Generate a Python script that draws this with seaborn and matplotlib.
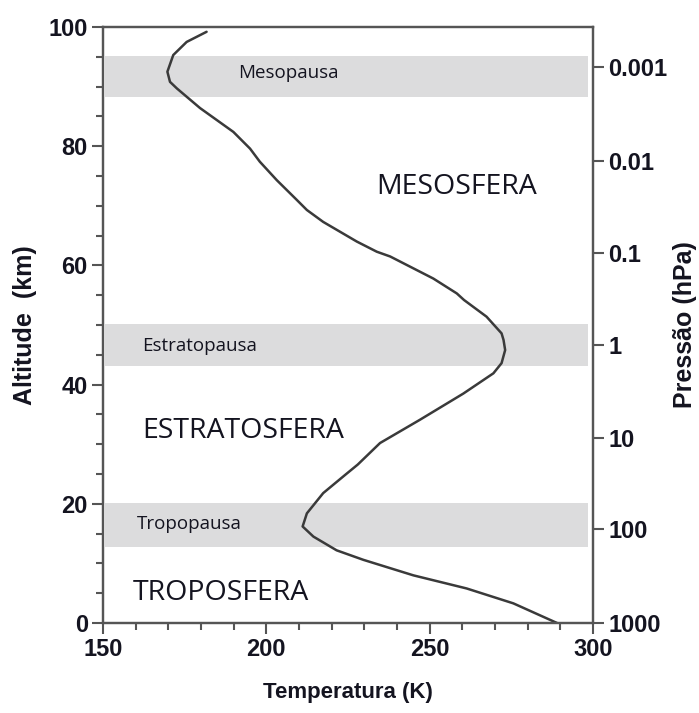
import matplotlib
matplotlib.use("Agg")
import matplotlib.pyplot as plt
import pandas as pd
import seaborn as sns
from matplotlib.ticker import MultipleLocator

# temperature profile
altitude_km = [0, 3.3, 5.8, 8.0, 10.6, 12.2, 14.5, 16.2, 18.4, 21.8, 24.8, 26.6,
               30.2, 34.1, 38.5, 41.9, 43.6, 45.8, 47.5, 48.6, 51.4, 54.2, 55.3,
               57.8, 61.5, 62.3, 64.0, 67.3, 69.3, 71.0, 74.3, 77.4, 79.6, 82.4,
               84.4, 86.4, 89.7, 90.8, 92.5, 95.3, 97.5, 99.2]
temperature_k = [289.0, 275.6, 261.3, 245.0, 229.7, 221.5, 214.4, 211.1, 212.4, 217.4,
                 224.0, 228.0, 234.8, 247.0, 260.3, 269.5, 272.0, 273.1, 272.6, 272.0,
                 267.4, 260.5, 258.3, 251.1, 237.9, 233.8, 227.7, 217.4, 212.4, 209.3,
                 203.2, 198.0, 195.0, 189.9, 184.8, 179.7, 172.6, 170.5, 169.7, 171.5,
                 175.6, 181.7]

# pause layers (bottom, top) in km
pause_names = ["Tropopausa", "Estratopausa", "Mesopausa"]
pause_bottom = [12.8, 43.1, 88.3]
pause_top = [20.1, 50.2, 95.1]
pause_label_x = [160.4, 161.9, 191.5]
pause_label_y = [16.6, 46.5, 92.3]

# layer names
layer_names = ["TROPOSFERA", "ESTRATOSFERA", "MESOSFERA"]
layer_x = [159.2, 161.9, 233.6]
layer_y = [5.0, 32.3, 73.2]

# pressure axis
pressure_labels = ["1000", "100", "10", "1", "0.1", "0.01", "0.001"]
pressure_alt = [0, 15.8, 31.1, 46.6, 62.1, 77.5, 93.3]

df = pd.DataFrame({"temp": temperature_k, "alt": altitude_km})

sns.set_theme(style="ticks")
plt.rcParams["font.family"] = ["Liberation Sans", "DejaVu Sans"]

fig = plt.figure(figsize=(6.99, 7.13), dpi=100)
ax = fig.add_axes([0.1474, 0.1262, 0.8484 - 0.1474, 0.9621 - 0.1262])

for lo, hi in zip(pause_bottom, pause_top):
    ax.axhspan(lo, hi, xmin=0.004, xmax=0.99, color="#dcdcdd", lw=0, zorder=0)

sns.lineplot(data=df, x="temp", y="alt", sort=False, estimator=None,
             color="#3a3a3a", linewidth=1.8, ax=ax, zorder=3)

ax.set_xlim(150, 300)
ax.set_ylim(0, 100)
ax.xaxis.set_major_locator(MultipleLocator(50))
ax.xaxis.set_minor_locator(MultipleLocator(10))
ax.yaxis.set_major_locator(MultipleLocator(20))
ax.yaxis.set_minor_locator(MultipleLocator(5))

edge = "#555555"
txt = "#141420"
for sp in ax.spines.values():
    sp.set_color(edge)
    sp.set_linewidth(1.6)
ax.tick_params(which="major", direction="out", length=8, width=1.5, color=edge,
               labelsize=17, labelcolor=txt, pad=3)
ax.tick_params(which="minor", direction="out", length=5, width=1.5, color=edge)
for lab in ax.get_xticklabels() + ax.get_yticklabels():
    lab.set_fontweight("bold")

ax.set_xlabel("Temperatura (K)", fontsize=16, fontweight="bold", color=txt, labelpad=15)
ax.set_ylabel("Altitude  (km)", fontsize=18, fontweight="bold", color=txt, labelpad=8)

ax2 = ax.twinx()
ax2.set_ylim(0, 100)
ax2.set_yticks(pressure_alt)
ax2.set_yticklabels(pressure_labels, fontweight="bold", fontsize=17, color=txt)
ax2.tick_params(axis="y", direction="out", length=8, width=1.5, color=edge, pad=3)
for sp in ax2.spines.values():
    sp.set_color(edge)
    sp.set_linewidth(1.6)
ax2.set_ylabel("Pressão (hPa)", fontsize=18, fontweight="bold", color=txt, labelpad=4)

for name, x, y in zip(pause_names, pause_label_x, pause_label_y):
    ax.text(x, y, name, fontsize=13.5, family="Open Sans", fontweight="medium",
            color=txt, va="center", ha="left")
for name, x, y in zip(layer_names, layer_x, layer_y):
    ax.text(x, y, name, fontsize=20.5, family="Open Sans", fontweight="medium",
            color=txt, va="center", ha="left")

fig.savefig("out.png", dpi=100)
plt.close(fig)
